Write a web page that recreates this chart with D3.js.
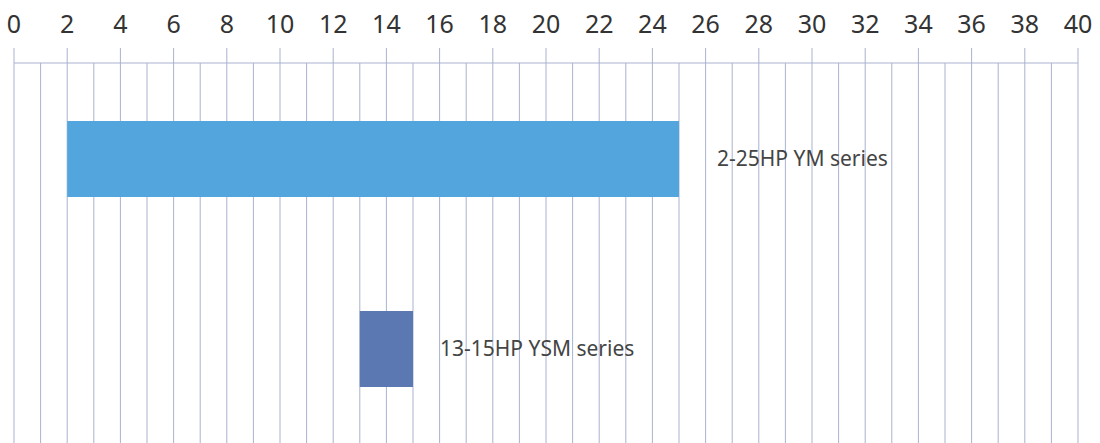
<!DOCTYPE html>
<html><head><meta charset="utf-8">
<script src="https://cdn.jsdelivr.net/npm/d3@7"></script>
<style>html,body{margin:0;padding:0;background:#fff;overflow:hidden}</style>
</head><body>
<svg id="c" width="1100" height="443"></svg>
<script>
const tickValues = [0,2,4,6,8,10,12,14,16,18,20,22,24,26,28,30,32,34,36,38,40];
const seriesNames = ["2-25HP YM series","13-15HP YSM series"];
const seriesStart = [2,13];
const seriesEnd = [25,15];
const seriesColors = ["#53A5DD","#5B78B2"];

const svg = d3.select("#c");
const x = d3.scaleLinear().domain([0,40]).range([14,1078]);
const y = d3.scaleBand().domain(seriesNames).range([64,444]).paddingInner(0.6).paddingOuter(0.3);
const labelOffsets = [38,27];

const gridColor = "#A9B2D0";
const minors = d3.range(1,40,2);
svg.selectAll("line.minor").data(minors).join("line")
  .attr("x1",d=>x(d)).attr("x2",d=>x(d)).attr("y1",63).attr("y2",443)
  .attr("stroke",gridColor).attr("stroke-width",1);
svg.selectAll("line.major").data(tickValues).join("line")
  .attr("x1",d=>x(d)).attr("x2",d=>x(d)).attr("y1",48).attr("y2",443)
  .attr("stroke",gridColor).attr("stroke-width",1);
svg.append("line").attr("x1",x(0)).attr("x2",x(40)).attr("y1",63).attr("y2",63)
  .attr("stroke",gridColor).attr("stroke-width",1);

svg.selectAll("text.tick").data(tickValues).join("text")
  .attr("x",d=>x(d)).attr("y",33).attr("text-anchor","middle")
  .attr("font-family","Noto Sans, Open Sans, sans-serif").attr("font-size",25)
  .attr("fill","#333").text(d=>d);

const data = seriesNames.map((n,i)=>({name:n,s:seriesStart[i],e:seriesEnd[i],c:seriesColors[i],o:labelOffsets[i]}));
svg.selectAll("rect.bar").data(data).join("rect")
  .attr("x",d=>x(d.s)).attr("width",d=>x(d.e)-x(d.s))
  .attr("y",d=>y(d.name)).attr("height",y.bandwidth())
  .attr("fill",d=>d.c);
svg.selectAll("text.lab").data(data).join("text")
  .attr("x",d=>x(d.e)+d.o).attr("y",d=>y(d.name)+y.bandwidth()/2)
  .attr("dy","0.35em")
  .attr("font-family","Noto Sans, Open Sans, sans-serif").attr("font-size",21)
  .attr("fill","#444").text(d=>d.name);
</script>
</body></html>
